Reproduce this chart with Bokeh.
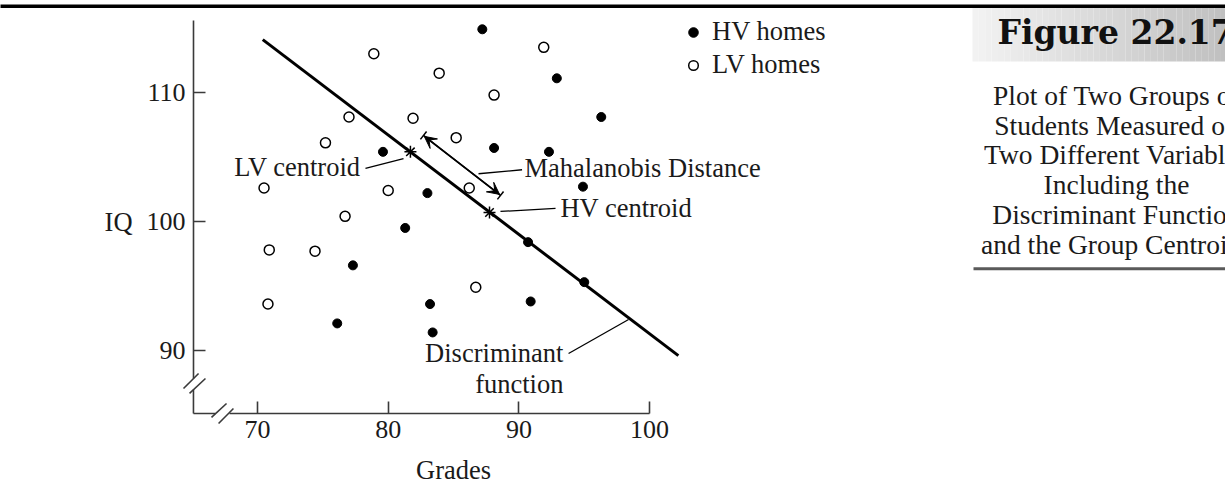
from bokeh.plotting import figure
from bokeh.models import (Range1d, FixedTicker, Arrow, VeeHead, TeeHead, Label, Legend, LegendItem,
                          LinearAxis, Grid)
from bokeh.embed import file_html
from bokeh.resources import INLINE

# ---------------- data ----------------
hv_grades = [87.2, 92.9, 96.3, 79.6, 88.1, 92.3, 94.9, 83.0, 81.3, 90.7, 77.3, 95.0, 90.9, 83.2, 76.1, 83.4]
hv_iq = [114.9, 111.1, 108.1, 105.4, 105.7, 105.4, 102.7, 102.2, 99.5, 98.4, 96.6, 95.3, 93.8, 93.6, 92.1, 91.4]
lv_grades = [78.9, 91.9, 83.9, 88.1, 77.0, 81.9, 75.2, 85.2, 70.5, 80.0, 86.2, 76.7, 70.9, 74.4, 86.7, 70.8]
lv_iq = [113.0, 113.5, 111.5, 109.8, 108.1, 108.0, 106.1, 106.5, 102.6, 102.4, 102.6, 100.4, 97.8, 97.7, 94.9, 93.6]
centroid_grades = [81.7, 87.75]
centroid_iq = [105.4, 100.7]
disc_grades = [70.4, 102.2]
disc_iq = [114.1, 89.6]
x_ticks = [70, 80, 90, 100]
y_ticks = [90, 100, 110]
caption_lines = ["Plot of Two Groups of", "Students Measured on", "Two Different Variables",
                 "Including the", "Discriminant Function", "and the Group Centroids"]

SERIF = "Liberation Serif"
INK = "#1a1a1a"
AX = "#3a3a3a"

p = figure(width=1225, height=492, x_range=Range1d(50.337, 144.06), y_range=Range1d(78.992, 117.132),
           output_backend="svg", toolbar_location=None, x_axis_location=None, y_axis_location=None,
           min_border_left=0, min_border_right=0, min_border_top=0, min_border_bottom=0)
for g in list(p.center):
    if isinstance(g, Grid):
        g.visible = False
p.outline_line_color = None
p.background_fill_color = "white"
p.border_fill_color = "white"

xaxis = LinearAxis(fixed_location=85.116, ticker=FixedTicker(ticks=x_ticks), bounds=(67.86, 100))
yaxis = LinearAxis(fixed_location=65.10, ticker=FixedTicker(ticks=y_ticks), bounds=(87.83, 115.58))
for ax in (xaxis, yaxis):
    ax.major_tick_in = 12
    ax.major_tick_out = 0
    ax.minor_tick_line_color = None
    ax.axis_line_color = AX
    ax.axis_line_width = 1.6
    ax.major_tick_line_color = AX
    ax.major_tick_line_width = 1.6
    ax.major_label_text_font = SERIF
    ax.major_label_text_font_size = "26px"
    ax.major_label_text_color = INK
xaxis.major_label_standoff = 7
yaxis.major_label_standoff = 8
p.add_layout(xaxis, "below")
p.add_layout(yaxis, "left")

# axis stubs, break marks and page rule
p.segment(x0=[65.10, 65.10, 66.48, 67.02, 64.34, 64.80],
          y0=[85.116, 85.116, 84.81, 84.34, 87.05, 86.67],
          x1=[66.79, 65.10, 67.63, 68.16, 65.49, 66.02],
          y1=[85.116, 86.98, 85.89, 85.50, 88.22, 87.83],
          line_color=AX, line_width=1.6)
p.segment(x0=[50.0], y0=[116.69], x1=[145.0], y1=[116.69], line_color="black", line_width=3.5)

# discriminant function
p.line(disc_grades, disc_iq, line_width=3, line_color="black")

# points
r_hv = p.scatter(hv_grades, hv_iq, size=9, fill_color="black", line_color="black")
r_lv = p.scatter(lv_grades, lv_iq, size=10, fill_color="white", line_color="black", line_width=1.5)
p.scatter(centroid_grades, centroid_iq, marker="asterisk", size=12, line_color="black", line_width=1.5)

# leader lines
p.segment(x0=[78.26, 86.91, 88.59, 93.80], y0=[104.11, 103.70, 100.78, 89.77],
          x1=[81.17, 90.24, 92.80, 98.39], y1=[104.88, 104.01, 101.01, 92.40],
          line_color="black", line_width=1.3)

# Mahalanobis distance arrow
p.add_layout(Arrow(start=VeeHead(size=12, fill_color="black", line_color="black"),
                   end=VeeHead(size=12, fill_color="black", line_color="black"),
                   x_start=82.76, y_start=106.60, x_end=88.52, y_end=102.10,
                   line_width=1.5, line_color="black"))
p.add_layout(Arrow(start=TeeHead(size=10, line_width=1.5), end=TeeHead(size=10, line_width=1.5),
                   x_start=82.70, y_start=106.67, x_end=88.59, y_end=102.02,
                   line_width=1.5, line_color="black"))

def lab(x, y, t, align="left", size="26.5px", font=SERIF, style="normal", color=INK):
    p.add_layout(Label(x=x, y=y, text=t, text_align=align, text_baseline="alphabetic",
                       text_font=font, text_font_size=size, text_font_style=style, text_color=color))

lab(77.88, 104.19, "LV centroid", "right")
lab(90.43, 104.11, "Mahalanobis Distance")
lab(93.18, 101.04, "HV centroid")
lab(93.41, 89.78, "Discriminant", "right")
lab(93.41, 87.42, "function", "right")
lab(60.44, 100.00, "IQ", "right")
lab(85.0, 80.70, "Grades", "center")

# legend
legend = Legend(items=[LegendItem(label="HV homes", renderers=[r_hv]),
                       LegendItem(label="LV homes", renderers=[r_lv])],
                location=(681, 412), glyph_width=24, glyph_height=24, label_height=24,
                spacing=2, padding=0, margin=0, label_standoff=7,
                border_line_color=None, background_fill_alpha=0,
                label_text_font=SERIF, label_text_font_size="26.5px", label_text_color=INK)
p.add_layout(legend)

# figure caption box (gradient band)
n = 40
bl, br = 124.70, 144.2
w = (br - bl) / n
lefts = [bl + i * w for i in range(n)]
rights = [bl + (i + 1) * w for i in range(n)]
cols = []
for i in range(n):
    g = int(round(242 - (242 - 192) * i / (n - 1)))
    cols.append("#%02x%02x%02x" % (g, g, g))
p.quad(left=lefts, right=rights, top=[116.55] * n, bottom=[112.40] * n, fill_color=cols, line_color=None)

lab(126.62, 114.65, "Figure 22.17", size="33px", font="DejaVu Serif", style="bold", color="#111111")

cap_y = [109.74, 107.46, 105.22, 102.89, 100.57, 98.24]
for t, yy in zip(caption_lines, cap_y):
    lab(135.72, yy, t, "center", size="27.5px")

p.segment(x0=[124.78], y0=[96.33], x1=[145.0], y1=[96.33], line_color="#5a5a5a", line_width=3)

open("out.html", "w").write(file_html(p, INLINE))
